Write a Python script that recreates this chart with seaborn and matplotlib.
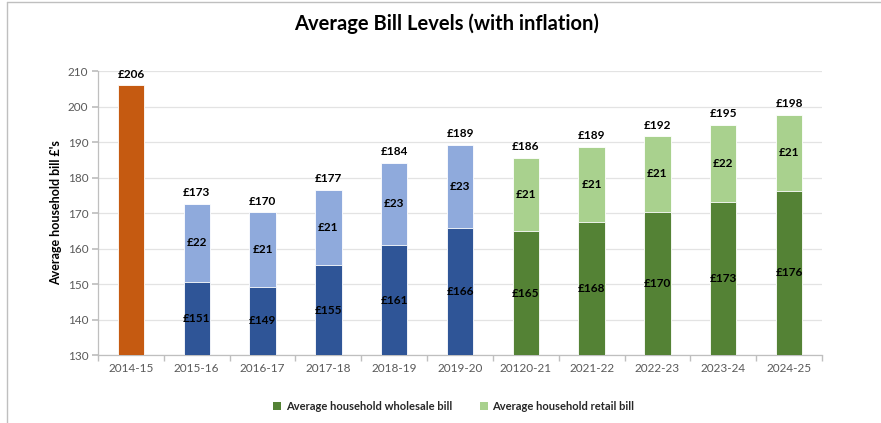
import matplotlib
matplotlib.use("Agg")
import matplotlib.pyplot as plt
from matplotlib.lines import Line2D
from matplotlib.patches import Patch
import seaborn as sns
import pandas as pd

years = ["2014-15", "2015-16", "2016-17", "2017-18", "2018-19", "2019-20",
         "20120-21", "2021-22", "2022-23", "2023-24", "2024-25"]
wholesale = [206.0, 150.6, 149.2, 155.3, 160.9, 165.9, 164.9, 167.6, 170.4, 173.2, 176.3]
retail = [0.0, 22.0, 21.0, 21.3, 23.3, 23.3, 20.7, 21.1, 21.2, 21.6, 21.4]
yticks = [130, 140, 150, 160, 170, 180, 190, 200, 210]

ORANGE = "#C55A11"
DBLUE = "#2F5597"
LBLUE = "#8FAADC"
DGREEN = "#548235"
LGREEN = "#A9D18E"

dark_cols = [ORANGE] + [DBLUE] * 5 + [DGREEN] * 5
light_cols = [ORANGE] + [LBLUE] * 5 + [LGREEN] * 5

df = pd.DataFrame({"year": years, "wholesale": wholesale, "retail": retail})
df["total"] = df["wholesale"] + df["retail"]

sns.set_theme(style="white")
plt.rcParams["font.family"] = ["Lato", "DejaVu Sans"]

fig = plt.figure(figsize=(8.81, 4.23), dpi=100)
ax = fig.add_axes([98 / 881, 1 - 355 / 423, (822 - 98) / 881, (355 - 71) / 423])

sns.barplot(data=df, x="year", y="total", hue="year",
            palette=dict(zip(years, light_cols)), width=0.4, saturation=1,
            edgecolor="white", linewidth=0.6, legend=False, ax=ax, zorder=2)
sns.barplot(data=df, x="year", y="wholesale", hue="year",
            palette=dict(zip(years, dark_cols)), width=0.4, saturation=1,
            edgecolor="white", linewidth=0.6, legend=False, ax=ax, zorder=3)

ax.set_ylim(130, 210)
ax.set_xlim(-0.5, len(years) - 0.5)
ax.set_yticks(yticks)
ax.yaxis.grid(True, color="#E3E3E3", linewidth=0.9, zorder=0)
ax.set_axisbelow(True)
for s in ["top", "right"]:
    ax.spines[s].set_visible(False)
for s in ["left", "bottom"]:
    ax.spines[s].set_color("#BFBFBF")
    ax.spines[s].set_linewidth(0.9)

ax.set_xlabel("")
ax.set_ylabel("Average household bill £'s", fontsize=9, fontweight="bold",
              color="black", labelpad=4)
ax.tick_params(axis="y", which="major", length=4, color="#BFBFBF",
               labelsize=8.5, labelcolor="#595959", left=True, pad=3)
ax.tick_params(axis="x", which="major", length=0, labelsize=8.5,
               labelcolor="#595959", pad=6)
ax.set_xticks([i + 0.5 for i in range(-1, len(years))], minor=True)
ax.tick_params(axis="x", which="minor", length=4, color="#BFBFBF", bottom=True)

for i, (w, r) in enumerate(zip(wholesale, retail)):
    t = w + r
    ax.text(i, t + 1.6, f"£{t:.0f}", ha="center", va="bottom",
            fontsize=8.5, fontweight="bold", color="black", zorder=5)
    if r > 0:
        ax.text(i, (130 + w) / 2, f"£{w:.0f}", ha="center", va="center",
                fontsize=8.5, fontweight="bold", color="black", zorder=5)
        ax.text(i, w + r / 2, f"£{r:.0f}", ha="center", va="center",
                fontsize=8.5, fontweight="bold", color="black", zorder=5)

fig.text(0.507, 1 - 24 / 423, "Average Bill Levels (with inflation)",
         ha="center", va="center", fontsize=14.5, fontweight="bold", color="black")

handles = [Patch(facecolor=DGREEN, edgecolor="none", label="Average household wholesale bill"),
           Patch(facecolor=LGREEN, edgecolor="none", label="Average household retail bill")]
fig.legend(handles=handles, loc="center", bbox_to_anchor=(0.515, 1 - 406 / 423),
           ncol=2, frameon=False, handlelength=0.7, handleheight=0.7,
           handletextpad=0.4, columnspacing=2.5,
           prop={"size": 8, "weight": "bold"})

fig.add_artist(Line2D([7 / 881, 1], [1 - 2 / 423, 1 - 2 / 423],
                      transform=fig.transFigure, color="#BFBFBF", linewidth=1))
fig.add_artist(Line2D([7 / 881, 7 / 881], [0, 1 - 2 / 423],
                      transform=fig.transFigure, color="#BFBFBF", linewidth=1))

fig.savefig("out.png", dpi=100)
